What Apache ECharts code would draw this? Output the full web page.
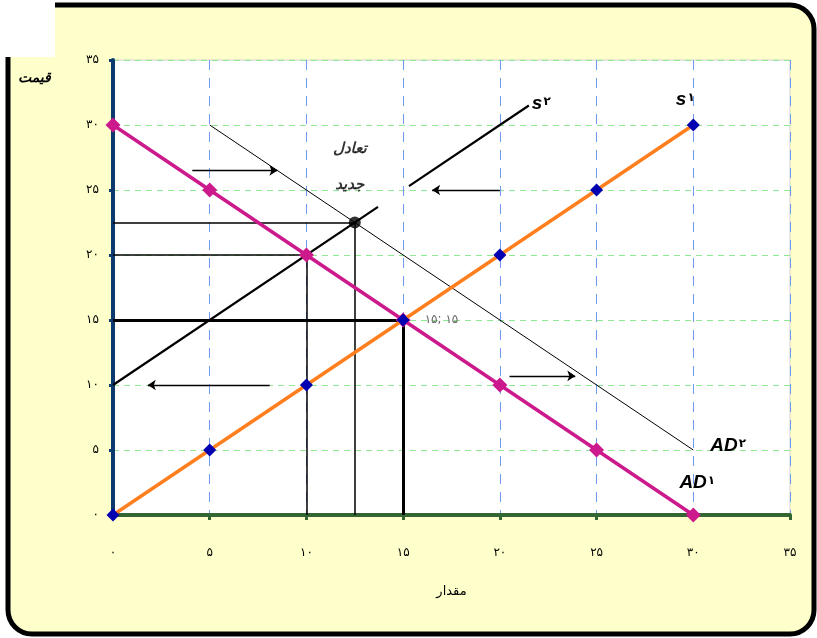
<!DOCTYPE html>
<html>
<head>
<meta charset="utf-8">
<script src="https://cdn.jsdelivr.net/npm/echarts@6/dist/echarts.min.js"></script>
<style>
  html, body { margin: 0; padding: 0; background: #ffffff; }
  #chart { width: 817px; height: 638px; }
</style>
</head>
<body>
<div id="chart"></div>
<script>
// Quantity points shared by the original supply and demand schedules
const quantities = [0, 5, 10, 15, 20, 25, 30];
const supply1 = [0, 5, 10, 15, 20, 25, 30];      // s1
const demand1 = [30, 25, 20, 15, 10, 5, 0];      // AD1
// Shifted curves (s2 has a break where the caption sits)
const supply2 = [[0, 10], [13.7, 23.7], [14.5, '-'], [15.3, 25.3], [21.5, 31.5]];
const demand2 = [[5, 30], [30, 5]];
// Equilibria
const oldEquilibrium = [15, 15];
const newEquilibrium = [12.5, 22.5];
const crossS2AD1 = [10, 20];
// Shift arrows [from, to]
const shiftArrows = [
  [[4.1, 26.5], [8.5, 26.5]],
  [[20.5, 10.7], [23.9, 10.7]],
  [[20, 25], [16.5, 25]],
  [[8.1, 10], [1.8, 10]]
];
const axisMax = 35;
const axisStep = 5;

const faDigits = '۰۱۲۳۴۵۶۷۸۹';
const toFa = v => String(v).replace(/\d/g, d => faDigits[d]);

// Dropped guide lines from a point to both axes
const guides = p => [
  { coords: [[0, p[1]], [p[0], p[1]]] },
  { coords: [[p[0], 0], [p[0], p[1]]] }
];

const chart = echarts.init(document.getElementById('chart'), null, { renderer: 'canvas' });

const labelFont = { fontFamily: 'DejaVu Sans', fontSize: 12, color: '#000' };
// Curve name: bold italic letters followed by a small index digit
const curveLabel = (letters, index, pos, offset) => ({
  show: true, position: pos, offset: offset,
  formatter: '{a|' + letters + '}{b|' + toFa(index) + '}',
  rich: {
    a: { fontFamily: 'Liberation Sans', fontWeight: 'bold', fontStyle: 'italic', fontSize: 19, color: '#000' },
    b: { fontFamily: 'DejaVu Sans', fontWeight: 'bold', fontSize: 12, color: '#000', padding: [0, 0, 4, 1] }
  }
});

const option = {
  animation: false,
  graphic: [
    {
      type: 'rect', z: -100,
      shape: { x: 8, y: 5, width: 806, height: 629, r: [0, 24, 24, 24] },
      style: { fill: '#FFFFCC', stroke: '#000', lineWidth: 5 }
    },
    {
      type: 'rect', z: -99,
      shape: { x: 0, y: 0, width: 55, height: 57 },
      style: { fill: '#ffffff' }
    },
    {
      type: 'text', left: 18, top: 71,
      style: { text: 'قیمت', fontFamily: 'DejaVu Sans', fontStyle: 'italic', fontWeight: 'bold', fontSize: 14, fill: '#000' }
    }
  ],
  grid: {
    left: 113, right: 27, top: 60, bottom: 123,
    show: true, backgroundColor: '#ffffff', borderColor: '#d0d0d0', borderWidth: 1
  },
  xAxis: {
    type: 'value', min: 0, max: axisMax, interval: axisStep,
    name: 'مقدار', nameLocation: 'middle', nameGap: 70,
    nameTextStyle: { fontFamily: 'DejaVu Sans', fontSize: 13, color: '#000' },
    axisLine: { show: true, onZero: false, lineStyle: { color: '#336633', width: 4, cap: 'round' } },
    axisTick: { show: true, length: 5, lineStyle: { color: '#336633', width: 3 } },
    axisLabel: Object.assign({ margin: 32, formatter: toFa }, labelFont),
    splitLine: { show: true, lineStyle: { color: '#6f9cf0', width: 1, type: [10, 8] } }
  },
  yAxis: {
    type: 'value', min: 0, max: axisMax, interval: axisStep,
    axisLine: { show: true, onZero: false, lineStyle: { color: '#0a3a6e', width: 4, cap: 'round' } },
    axisTick: { show: true, length: 4, lineStyle: { color: '#0a3a6e', width: 3 } },
    axisLabel: Object.assign({ margin: 14, formatter: toFa }, labelFont),
    splitLine: { show: true, lineStyle: { color: '#90e890', width: 1, type: [6, 5] } }
  },
  series: [
    {
      name: 'guides-thin', type: 'lines', coordinateSystem: 'cartesian2d', z: 3,
      data: guides(crossS2AD1).concat(guides(newEquilibrium)),
      lineStyle: { color: '#000', width: 1.5, opacity: 1 }
    },
    {
      name: 'guides-old', type: 'lines', coordinateSystem: 'cartesian2d', z: 3,
      data: guides(oldEquilibrium),
      lineStyle: { color: '#000', width: 3, opacity: 1 }
    },
    {
      name: 'AD2', type: 'line', z: 4,
      data: demand2.map((p, i) => i === demand2.length - 1
        ? { value: p, label: curveLabel('AD', 2, 'right', [12, -4]) } : p),
      symbol: 'circle', symbolSize: 0, showSymbol: true,
      lineStyle: { color: '#000', width: 1 }
    },
    {
      name: 's2', type: 'line', z: 4, connectNulls: false,
      data: supply2.map((p, i) => i === supply2.length - 1
        ? { value: p, label: curveLabel('s', 2, 'right', [-2, -2]) } : p),
      symbol: 'circle', symbolSize: 0, showSymbol: true,
      lineStyle: { color: '#000', width: 2.2 }
    },
    {
      name: 'AD1', type: 'line', z: 5,
      data: quantities.map((q, i) => i === quantities.length - 1
        ? { value: [q, demand1[i]], label: curveLabel('AD', 1, 'top', [4, -10]) }
        : [q, demand1[i]]),
      symbol: 'diamond', symbolSize: 15,
      itemStyle: { color: '#cc1a8c' },
      lineStyle: { color: '#cc1a8c', width: 3.5 }
    },
    {
      name: 's1', type: 'line', z: 6,
      data: quantities.map((q, i) => {
        if (i === quantities.length - 1) {
          return { value: [q, supply1[i]], label: curveLabel('s', 1, 'top', [-8, -4]) };
        }
        if (q === oldEquilibrium[0]) {
          return {
            value: [q, supply1[i]],
            label: {
              show: true, position: 'right', offset: [10, 0],
              formatter: toFa(oldEquilibrium[0]) + '; ' + toFa(oldEquilibrium[1]),
              fontFamily: 'DejaVu Sans', fontSize: 12, color: '#666'
            }
          };
        }
        return [q, supply1[i]];
      }),
      symbol: 'diamond', symbolSize: 13,
      itemStyle: { color: '#0000b0' },
      lineStyle: { color: '#ff7f1e', width: 3.5 }
    },
    {
      name: 'new-equilibrium', type: 'scatter', z: 7,
      data: [{
        value: newEquilibrium,
        label: {
          show: true, position: 'top', offset: [-5, -8],
          formatter: 'تعادل\nجدید',
          fontFamily: 'DejaVu Sans', fontStyle: 'italic', fontWeight: 'bold',
          fontSize: 15, lineHeight: 36, color: '#000'
        }
      }],
      symbol: 'circle', symbolSize: 12,
      itemStyle: { color: '#000' }
    },
    {
      name: 'shifts', type: 'lines', coordinateSystem: 'cartesian2d', z: 8,
      data: shiftArrows.map(a => ({ coords: a })),
      symbol: ['none', 'arrow'], symbolSize: 8,
      lineStyle: { color: '#000', width: 1.3, opacity: 1 }
    }
  ]
};

chart.setOption(option);
</script>
</body>
</html>
